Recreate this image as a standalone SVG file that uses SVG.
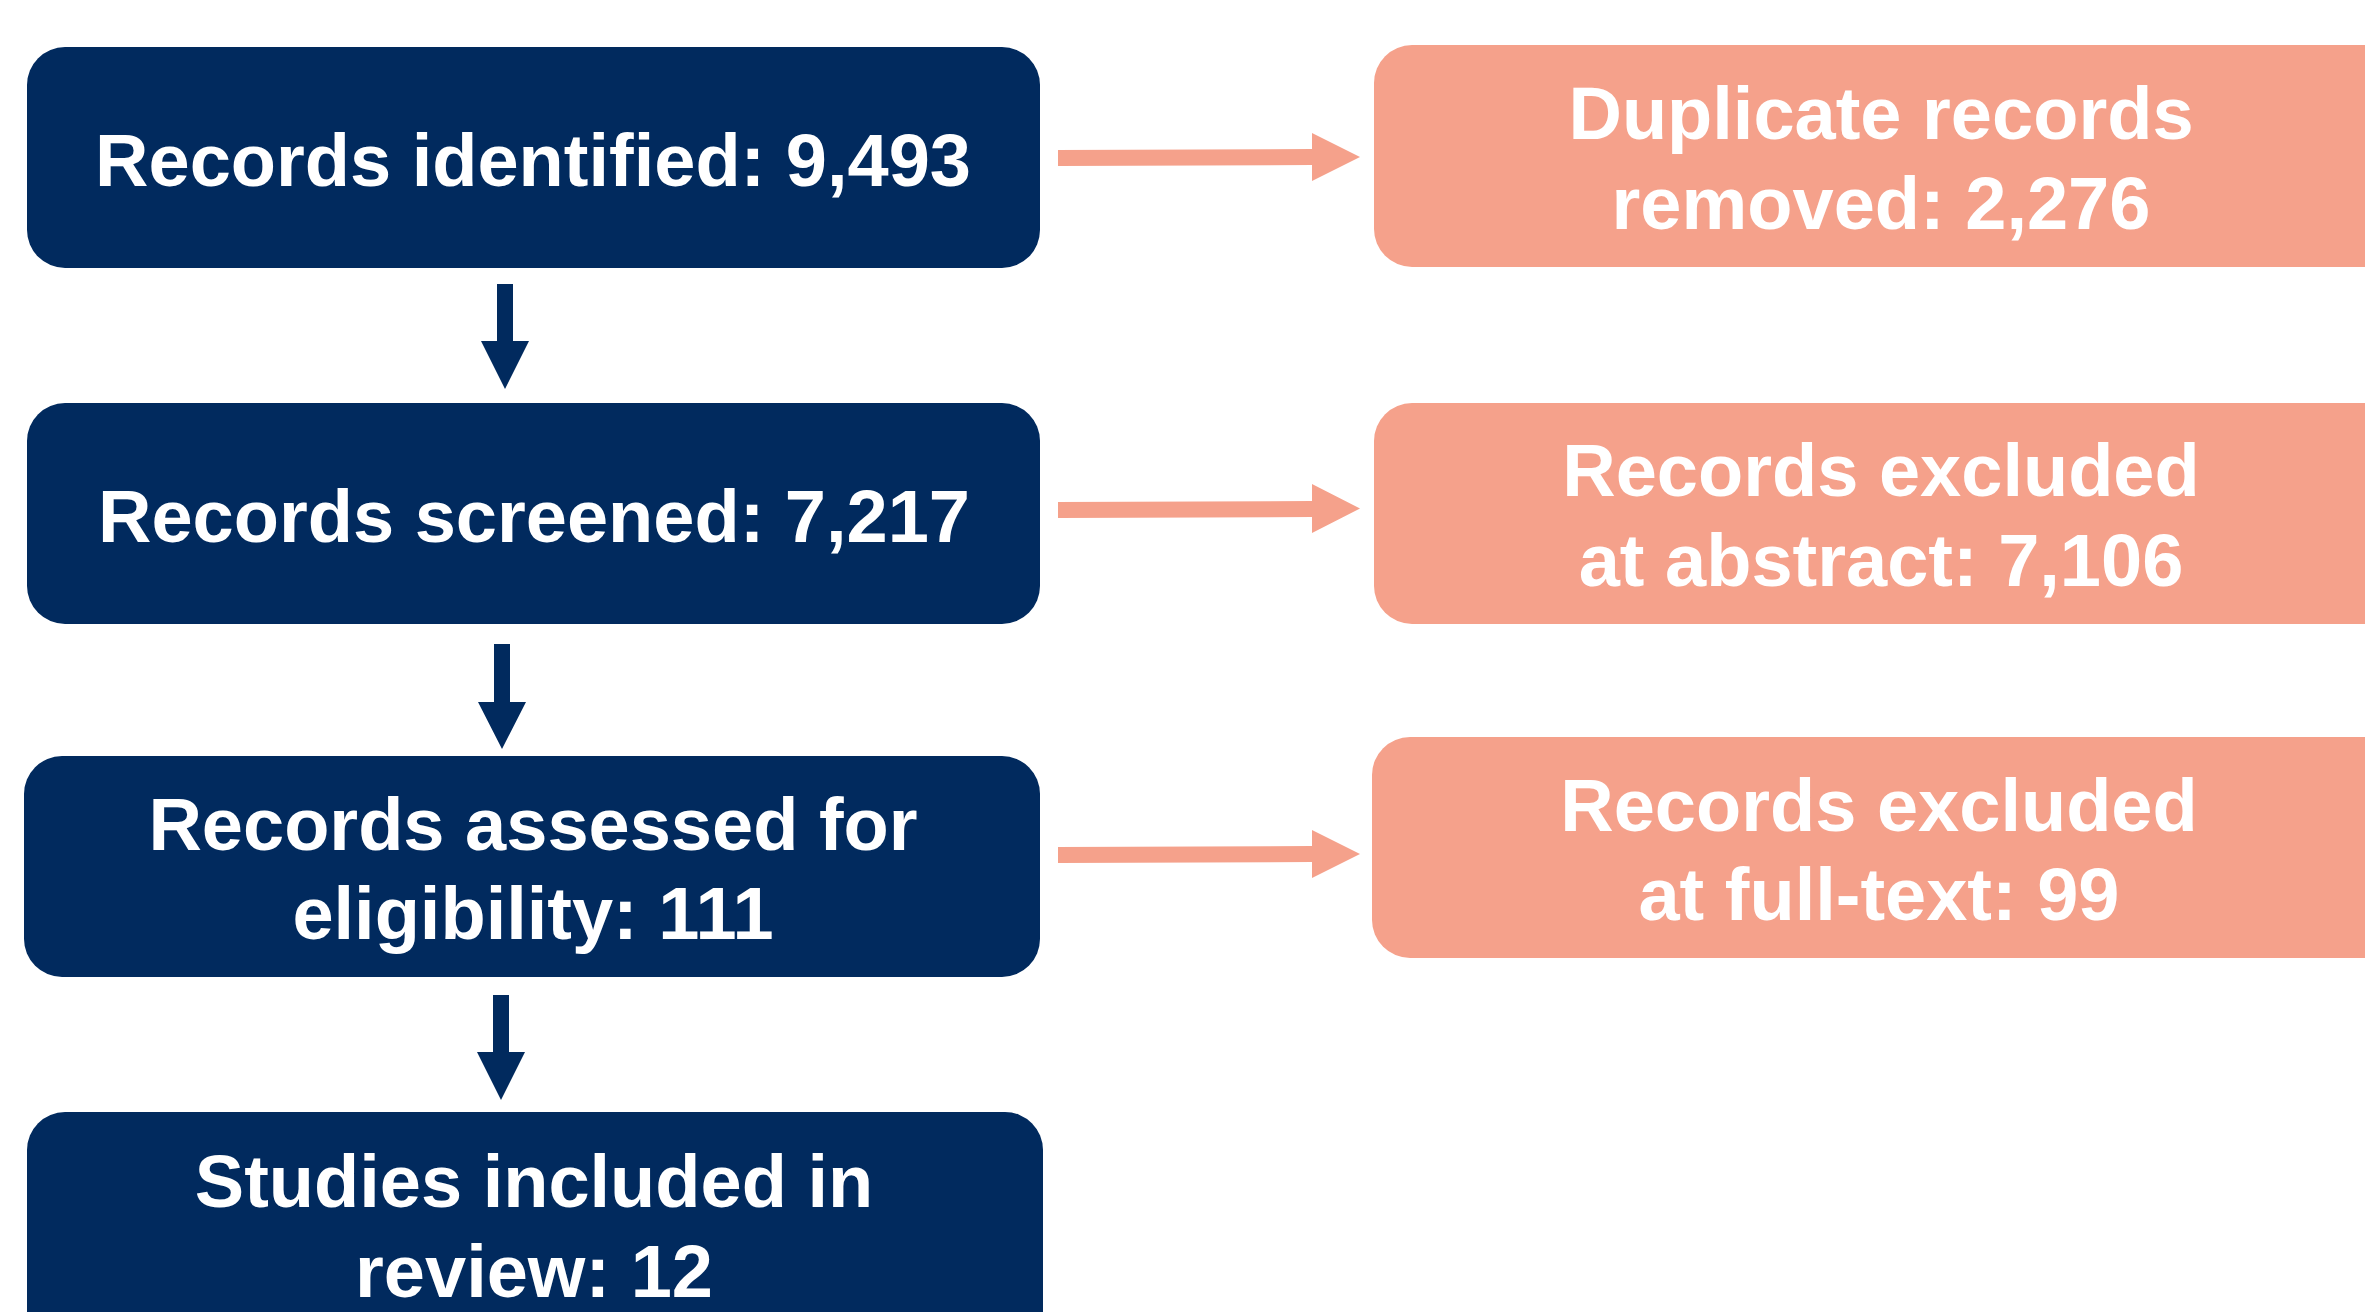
<svg xmlns="http://www.w3.org/2000/svg" width="2365" height="1312" viewBox="0 0 2365 1312">
<style>
.navy{fill:#012A5E}
.salmon{fill:#F5A18B}
.t{font-family:"Liberation Sans",Arial,sans-serif;font-weight:bold;font-size:74px;fill:#FFFFFF;text-anchor:middle}
</style>
<rect width="2365" height="1312" fill="#FFFFFF"/>
<g id="connectors">
  <polygon class="navy" points="497,284 513,284 513,341 529,341 505,389 481,341 497,341"/>
  <polygon class="navy" points="494,644 510,644 510,702 526,702 502,749 478,702 494,702"/>
  <polygon class="navy" points="493,995 509,995 509,1052 525,1052 501,1100 477,1052 493,1052"/>
  <polygon class="salmon" points="1058,150 1312,149 1312,133 1360,157 1312,181 1312,165 1058,166"/>
  <polygon class="salmon" points="1058,502 1312,501 1312,484 1360,508.5 1312,533 1312,517 1058,518"/>
  <polygon class="salmon" points="1058,847 1312,846 1312,830 1360,854 1312,878 1312,862 1058,863"/>
</g>
<g id="records-identified">
  <rect class="navy" x="27" y="47" width="1013" height="221" rx="38" ry="38"/>
  <text class="t" x="533" y="186">Records identified: 9,493</text>
</g>
<g id="records-screened">
  <rect class="navy" x="27" y="403" width="1013" height="221" rx="38" ry="38"/>
  <text class="t" x="534" y="542">Records screened: 7,217</text>
</g>
<g id="records-assessed">
  <rect class="navy" x="24" y="756" width="1016" height="221" rx="38" ry="38"/>
  <text class="t" x="533" y="850">Records assessed for</text>
  <text class="t" x="533" y="939">eligibility: 111</text>
</g>
<g id="studies-included">
  <rect class="navy" x="27" y="1112" width="1016" height="260" rx="38" ry="38"/>
  <text class="t" x="534" y="1207">Studies included in</text>
  <text class="t" x="534" y="1297">review: 12</text>
</g>
<g id="duplicates-removed">
  <rect class="salmon" x="1374" y="45" width="1030" height="222" rx="38" ry="38"/>
  <text class="t" x="1881" y="139">Duplicate records</text>
  <text class="t" x="1881" y="229">removed: 2,276</text>
</g>
<g id="excluded-abstract">
  <rect class="salmon" x="1374" y="403" width="1030" height="221" rx="38" ry="38"/>
  <text class="t" x="1881" y="496">Records excluded</text>
  <text class="t" x="1881" y="586">at abstract: 7,106</text>
</g>
<g id="excluded-fulltext">
  <rect class="salmon" x="1372" y="737" width="1030" height="221" rx="38" ry="38"/>
  <text class="t" x="1879" y="831">Records excluded</text>
  <text class="t" x="1879" y="920">at full-text: 99</text>
</g>
</svg>
